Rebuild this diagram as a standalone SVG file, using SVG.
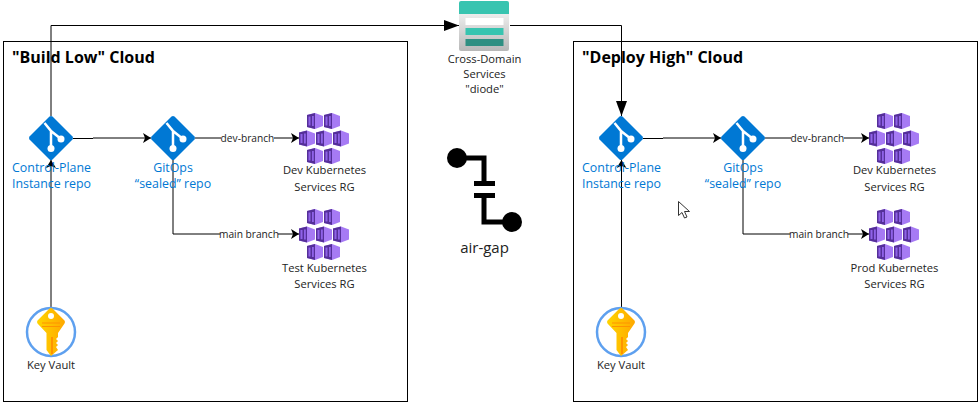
<svg xmlns="http://www.w3.org/2000/svg" width="978" height="402" viewBox="0 0 978 402">
<style>
text{font-family:"Open Sans","Noto Sans","Liberation Sans",sans-serif;font-size:11.200px;fill:#222;text-anchor:middle}
.t{font-size:16px;font-weight:700;text-anchor:start;fill:#000}
.b{font-size:12.400px;fill:#0078d4}
.s{font-size:15px}
.bl{font-size:10.200px}
.box{fill:#fff;stroke:#000;stroke-width:1}
.l{fill:none;stroke:#000;stroke-width:1}
.g{fill:none;stroke:#000;stroke-width:1}
.lab{fill:#fff}
</style>
<defs>
<marker id="a" markerUnits="userSpaceOnUse" markerWidth="10" markerHeight="12" refX="8" refY="5" orient="auto"><path d="M0 0L8 5L0 10L2 5Z" fill="#000"/></marker>
<marker id="big" markerUnits="userSpaceOnUse" markerWidth="16" markerHeight="12" refX="15" refY="5.500" orient="auto"><path d="M0 0L15 5.500L0 11Z" fill="#000"/></marker>
<linearGradient id="kg" x1="0" x2="1" y1="0" y2="0"><stop offset="0" stop-color="#ffd400"/><stop offset="1" stop-color="#ffa800"/></linearGradient>
<linearGradient id="dg" x1="0" x2="0" y1="0" y2="1"><stop offset="0" stop-color="#fff"/><stop offset="1" stop-color="#b8b8b8"/></linearGradient>
<symbol id="git" viewBox="-22 -22 44 44" width="44" height="44" overflow="visible">
<path d="M-1.500 -21.500Q0 -22.500 1.500 -21.500L21.500 -1.500Q22.500 0 21.500 1.500L1.500 21.500Q0 22.500 -1.500 21.500L-21.500 1.500Q-22.500 0 -21.500 -1.500Z" fill="#0078d4"/>
<path d="M-6.500 -15L0 -7V10M0 -7L10 1" fill="none" stroke="#fff" stroke-width="2.500"/>
<circle cx="0" cy="10.500" r="3.500" fill="#fff"/><circle cx="10" cy="1" r="3.500" fill="#fff"/>
</symbol>
<g id="cube"><path d="M0 2L8 0L16 3V13L8 16L0 14Z" fill="#a67af4"/><path d="M0 2L8 0V16L0 14Z" fill="#552f99"/><path d="M1.500 3.500H3.500V12.500H1.500ZM5 3H6.800V13H5Z" fill="#8f62e8"/></g>
<g id="aks"><use href="#cube" x="8" y="0"/><use href="#cube" x="25" y="0"/><use href="#cube" x="0" y="17.500"/><use href="#cube" x="17" y="17.500"/><use href="#cube" x="34" y="17.500"/><use href="#cube" x="8" y="35"/><use href="#cube" x="25" y="35"/></g>
<g id="key">
<circle cx="0" cy="0" r="24" fill="#fff" stroke="#5ea0ef" stroke-width="2.500"/>
<path d="M-1.500 -23.500Q0 -24.500 1.500 -23.500L13.500 -11.500Q14.500 -10 13.500 -8.500L7 1V5L5 7L7 9L5 11L7 13L5 15L7 18L0 24L-4.500 18V1L-13.500 -8.500Q-14.500 -10 -13.500 -11.500Z" fill="url(#kg)"/>
<circle cx="0" cy="-16" r="3" fill="#fff"/>
<path d="M-9 -9H9M-9 -5.500H9" stroke="#ff9300" stroke-width="1"/>
<path d="M1 5V22" stroke="#ff9300" stroke-width="2"/>
</g>
</defs>
<rect width="978" height="402" fill="#fff"/>
<g id="cloud-low"><rect class="box" x="3.500" y="41.500" width="404" height="360"/><text class="t" x="12" y="63">"Build Low" Cloud</text></g>
<g id="cloud-high"><rect class="box" x="573.500" y="41.500" width="404" height="360"/><text class="t" x="582" y="63">"Deploy High" Cloud</text></g>
<g id="connectors">
<path class="l" d="M51 116V25.500H459" marker-end="url(#big)"/>
<path class="l" d="M510 25.500H621.500V116" marker-end="url(#big)"/>
<path class="l" d="M51 308V160" marker-end="url(#a)"/>
<path class="l" d="M621.500 308V160" marker-end="url(#a)"/>
<path class="l" d="M73 138.500H93"/><path class="g" d="M93 138H151" marker-end="url(#a)"/>
<path class="l" d="M643 138.500H663"/><path class="g" d="M663 138H721" marker-end="url(#a)"/>
<path class="g" d="M195 138H299" marker-end="url(#a)"/>
<path class="g" d="M173 160V234H299" marker-end="url(#a)"/>
<path class="g" d="M765 138H869" marker-end="url(#a)"/>
<path class="g" d="M743 160V234H869" marker-end="url(#a)"/>
<rect class="lab" x="221" y="131" width="53" height="14"/><text class="bl" x="247.500" y="142">dev-branch</text>
<rect class="lab" x="220" y="227" width="58" height="14"/><text class="bl" x="249" y="238">main branch</text>
<rect class="lab" x="791" y="131" width="53" height="14"/><text class="bl" x="817.500" y="142">dev-branch</text>
<rect class="lab" x="790" y="227" width="58" height="14"/><text class="bl" x="819" y="238">main branch</text>
</g>
<g id="diode">
<rect x="459" y="1" width="50" height="50" rx="2" fill="url(#dg)"/>
<path d="M459 3Q459 1 461 1H507Q509 1 509 3V14H459Z" fill="#38c4b0"/>
<rect x="465.500" y="18" width="38" height="7" fill="#fff"/>
<rect x="465.500" y="28" width="38" height="7" fill="#38c4b0"/>
<rect x="465.500" y="39" width="38" height="7" fill="#2f8f82"/>
<text x="484.500" y="63">Cross-Domain</text><text x="484.500" y="78">Services</text><text x="484.500" y="93">"diode"</text>
</g>
<g id="airgap">
<path d="M457 158H484V181M484 195V222H512" fill="none" stroke="#000" stroke-width="5"/>
<rect x="474" y="181" width="21" height="5"/><rect x="474" y="193" width="21" height="5"/>
<circle cx="457" cy="158" r="10"/><circle cx="512" cy="222" r="10"/>
<text class="s" x="484.500" y="253">air-gap</text>
</g>
<g id="cp-low"><use href="#git" x="29" y="116"/><text class="b" x="51.500" y="172">Control-Plane</text><text class="b" x="51.500" y="188">Instance repo</text></g>
<g id="gitops-low"><use href="#git" x="151" y="116"/><text class="b" x="173" y="172">GitOps</text><text class="b" x="173" y="188">“sealed” repo</text></g>
<g id="dev-low"><use href="#aks" x="299" y="113"/><text x="324.500" y="174">Dev Kubernetes</text><text x="324.500" y="191">Services RG</text></g>
<g id="test-low"><use href="#aks" x="299" y="209"/><text x="324.500" y="272">Test Kubernetes</text><text x="324.500" y="288">Services RG</text></g>
<g id="kv-low"><use href="#key" x="51" y="332"/><text x="51" y="369">Key Vault</text></g>
<g id="cp-high"><use href="#git" x="599" y="116"/><text class="b" x="621.500" y="172">Control-Plane</text><text class="b" x="621.500" y="188">Instance repo</text></g>
<g id="gitops-high"><use href="#git" x="721" y="116"/><text class="b" x="743" y="172">GitOps</text><text class="b" x="743" y="188">“sealed” repo</text></g>
<g id="dev-high"><use href="#aks" x="869" y="113"/><text x="894.500" y="174">Dev Kubernetes</text><text x="894.500" y="191">Services RG</text></g>
<g id="prod-high"><use href="#aks" x="869" y="209"/><text x="894.500" y="272">Prod Kubernetes</text><text x="894.500" y="288">Services RG</text></g>
<g id="kv-high"><use href="#key" x="621" y="332"/><text x="621" y="369">Key Vault</text></g>
<path id="cursor" d="M678.500 201.500V215.500L682 212.500L684.500 218L687 217L684.500 211.500L689.500 211.500Z" fill="#fff" stroke="#333" stroke-width="1"/>
</svg>
